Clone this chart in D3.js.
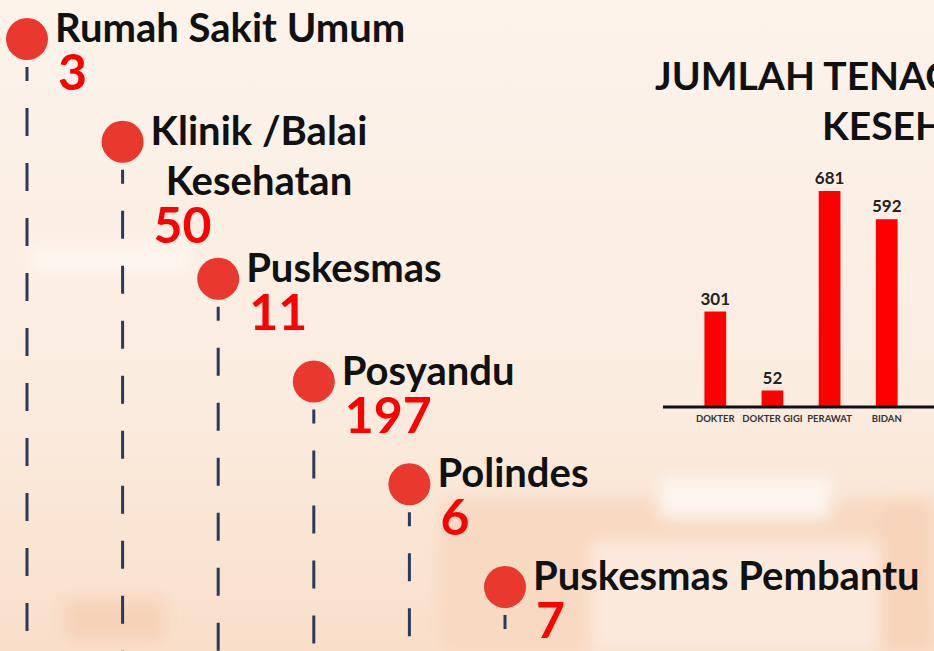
<!DOCTYPE html>
<html>
<head>
<meta charset="utf-8">
<script src="https://d3js.org/d3.v7.min.js"></script>
<style>
  body { margin: 0; overflow: hidden; background: #fbefe5; }
  text { font-family: Lato, "Open Sans", sans-serif; font-weight: bold; }
</style>
</head>
<body>
<script>
// ---- data: health facilities (timeline) ----
const facilityLabels = [
  ["Rumah Sakit Umum"],
  ["Klinik /Balai", "Kesehatan"],
  ["Puskesmas"],
  ["Posyandu"],
  ["Polindes"],
  ["Puskesmas Pembantu"]
];
const facilityCounts = [3, 50, 11, 197, 6, 7];

// ---- data: health workers (bar chart) ----
const workerTypes = ["DOKTER", "DOKTER GIGI", "PERAWAT", "BIDAN"];
const workerCounts = [301, 52, 681, 592];
const titleLines = ["JUMLAH TENAGA", "KESEHATAN"];

const width = 934, height = 651;

const svg = d3.select('body').append('svg')
  .attr('width', width)
  .attr('height', height);

//****BACKGROUND****
const defs = svg.append('defs');
const bg = defs.append('linearGradient')
  .attr('id', 'bg').attr('x1', 0).attr('y1', 0).attr('x2', 0).attr('y2', 1);
bg.append('stop').attr('offset', '0%').attr('stop-color', '#fcf3eb');
bg.append('stop').attr('offset', '60%').attr('stop-color', '#fbece0');
bg.append('stop').attr('offset', '100%').attr('stop-color', '#f9dfca');
defs.append('filter').attr('id', 'blur')
  .attr('x', '-20%').attr('y', '-20%').attr('width', '140%').attr('height', '140%')
  .append('feGaussianBlur').attr('stdDeviation', 8);

svg.append('rect').attr('width', width).attr('height', height).attr('fill', 'url(#bg)');

// soft, out-of-focus building shapes behind the chart
const blurGroup = svg.append('g').attr('filter', 'url(#blur)');
blurGroup.append('rect').attr('x', 440).attr('y', 500).attr('width', 494).attr('height', 151).attr('fill', '#f8d9c1');
blurGroup.append('rect').attr('x', 590).attr('y', 540).attr('width', 344).attr('height', 111).attr('fill', '#fbe9dc');
blurGroup.append('rect').attr('x', 660).attr('y', 478).attr('width', 170).attr('height', 40).attr('fill', '#fdf6f0');
blurGroup.append('rect').attr('x', 65).attr('y', 600).attr('width', 100).attr('height', 40).attr('fill', '#f6d2b8');
blurGroup.append('rect').attr('x', 880).attr('y', 500).attr('width', 54).attr('height', 151).attr('fill', '#f7d4ba');
blurGroup.append('rect').attr('x', 30).attr('y', 245).attr('width', 160).attr('height', 28).attr('fill', '#fdf6f0');

//****TIMELINE OF FACILITIES****
// each item takes (label lines + 2) row units
const rowStart = [];
facilityLabels.reduce((acc, lines, i) => { rowStart[i] = acc; return acc + lines.length + 2; }, 0);

const xItem = d3.scaleLinear().domain([0, facilityLabels.length - 1]).range([27, 505]);
const yItem = d3.scaleLinear().domain([0, 16]).range([39, 587]);
const r = 21;

const items = facilityLabels.map((lines, i) => ({
  lines: lines,
  count: facilityCounts[i],
  cx: xItem(i),
  cy: yItem(rowStart[i])
}));

const timeline = svg.append('g').attr('id', 'timeline');

timeline.selectAll('.stem')
  .data(items)
  .enter()
  .append('line')
  .attr('class', 'stem')
  .attr('x1', d => d.cx).attr('x2', d => d.cx)
  .attr('y1', d => d.cy + r + 7)
  .attr('y2', height)
  .attr('stroke', '#2c3a57')
  .attr('stroke-width', 3)
  .attr('stroke-dasharray', '28,27')
  .attr('stroke-dashoffset', 14);

timeline.selectAll('.dot')
  .data(items)
  .enter()
  .append('circle')
  .attr('class', 'dot')
  .attr('cx', d => d.cx)
  .attr('cy', d => d.cy)
  .attr('r', r)
  .attr('fill', '#e9382d');

const labelSize = 40, lineGap = 50;

items.forEach(d => {
  const g = timeline.append('g');
  const texts = g.selectAll('text.label')
    .data(d.lines)
    .enter()
    .append('text')
    .attr('class', 'label')
    .attr('x', d.cx + 28)
    .attr('y', (_, j) => d.cy + 3 + j * lineGap)
    .style('font-size', labelSize + 'px')
    .attr('fill', '#111')
    .text(t => t);

  // multi-line labels are centred on the widest line
  if (d.lines.length > 1) {
    const lens = texts.nodes().map(n => n.getComputedTextLength());
    const maxLen = d3.max(lens);
    texts.attr('x', (_, j) => d.cx + 28 + (maxLen - lens[j]) / 2);
  }

  g.append('text')
    .attr('x', d.cx + 31)
    .attr('y', d.cy + 3 + (d.lines.length - 1) * lineGap + 48)
    .style('font-size', '50px')
    .attr('fill', '#ff0000')
    .text(d.count);
});

//****BAR CHART OF HEALTH WORKERS****
const chart = svg.append('g').attr('id', 'bar-chart');

chart.selectAll('.title')
  .data(titleLines)
  .enter()
  .append('text')
  .attr('class', 'title')
  .attr('x', (_, i) => i === 0 ? 655 : 822)
  .attr('y', (_, i) => 90 + i * 50)
  .style('font-size', '39px')
  .attr('fill', '#111')
  .text(t => t);

const xBar = d3.scaleBand()
  .domain(workerTypes)
  .range([669, 933])
  .padding(0.62);

const yBar = d3.scaleLinear()
  .domain([0, d3.max(workerCounts)])
  .range([407, 191]);

const barData = workerTypes.map((t, i) => ({ type: t, value: workerCounts[i] }));

chart.selectAll('.bar')
  .data(barData)
  .enter()
  .append('rect')
  .attr('class', 'bar')
  .attr('x', d => xBar(d.type))
  .attr('y', d => yBar(d.value))
  .attr('width', xBar.bandwidth())
  .attr('height', d => yBar(0) - yBar(d.value))
  .attr('fill', '#ff0000');

chart.selectAll('.bar-value')
  .data(barData)
  .enter()
  .append('text')
  .attr('class', 'bar-value')
  .attr('x', d => xBar(d.type) + xBar.bandwidth() / 2)
  .attr('y', d => yBar(d.value) - 7)
  .attr('text-anchor', 'middle')
  .style('font-size', '17px')
  .attr('fill', '#222')
  .text(d => d.value);

const xAxis = d3.axisBottom(xBar).tickSize(0).tickPadding(8);

const axisG = chart.append('g')
  .attr('transform', `translate(0, ${yBar(0)})`)
  .call(xAxis);

axisG.select('.domain')
  .attr('d', `M663,0H${width}`)
  .attr('stroke', '#111')
  .attr('stroke-width', 3);

axisG.selectAll('text')
  .style('font-family', 'Lato, sans-serif')
  .style('font-weight', 'bold')
  .style('font-size', '9.5px')
  .attr('fill', '#333');
</script>
</body>
</html>
